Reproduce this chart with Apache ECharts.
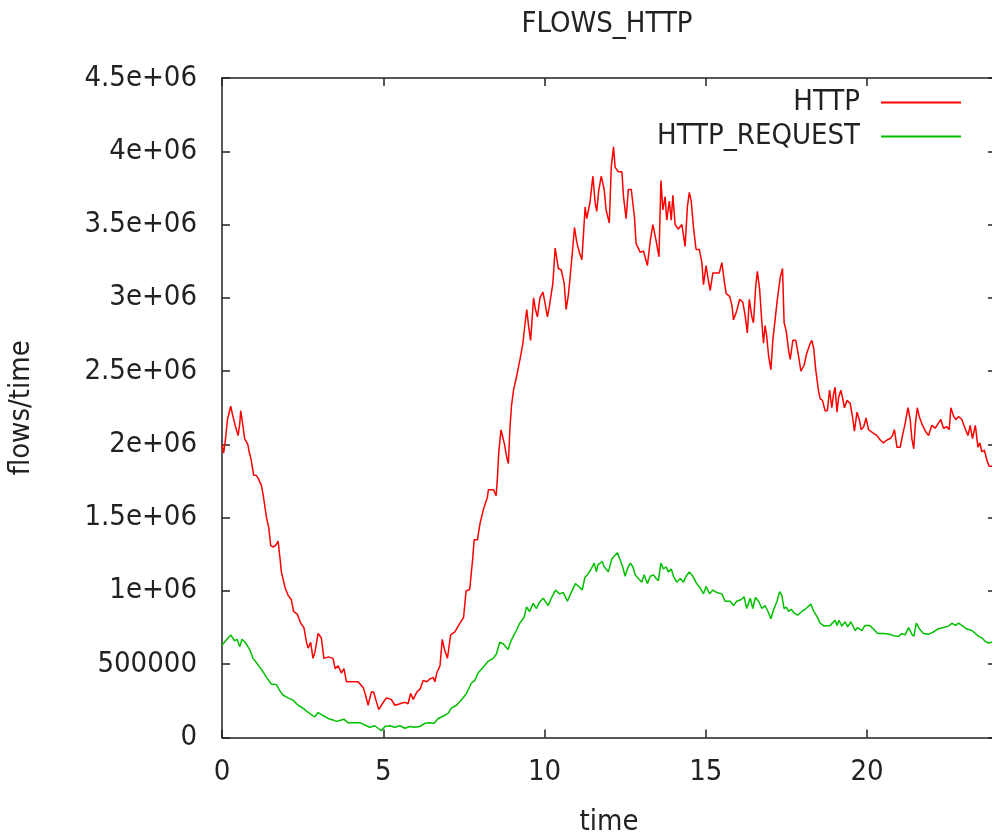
<!DOCTYPE html>
<html>
<head>
<meta charset="utf-8">
<script src="https://cdn.jsdelivr.net/npm/echarts@6/dist/echarts.min.js"></script>
<style>
html,body{margin:0;padding:0;background:#ffffff;}
#chart{width:992px;height:835px;}
</style>
</head>
<body>
<div id="chart"></div>
<script>
// ---- data (values in millions of flows) ----
const UNIT = 1e6;
const seriesNames = ['HTTP', 'HTTP_REQUEST'];
const xTickValues = [0, 5, 10, 15, 20];
const yTickLabels = ['0', '500000', '1e+06', '1.5e+06', '2e+06', '2.5e+06', '3e+06', '3.5e+06', '4e+06', '4.5e+06'];

const httpPoints = [
[0,2.00],[0.05,1.94],[0.10,2.02],[0.17,2.17],[0.27,2.26],[0.33,2.20],[0.42,2.12],[0.50,2.06],[0.55,2.14],[0.58,2.23],
[0.64,2.14],[0.70,2.04],[0.76,2.03],[0.80,2.00],[0.84,1.95],[0.90,1.90],[0.98,1.79],[1.05,1.79],[1.12,1.77],[1.22,1.72],
[1.28,1.65],[1.38,1.50],[1.45,1.43],[1.51,1.31],[1.58,1.30],[1.66,1.31],[1.74,1.34],[1.80,1.22],[1.84,1.13],[1.96,1.02],
[2.05,0.97],[2.15,0.94],[2.22,0.86],[2.34,0.84],[2.44,0.78],[2.54,0.75],[2.62,0.65],[2.67,0.61],[2.75,0.65],[2.82,0.54],
[2.88,0.58],[2.98,0.71],[3.08,0.68],[3.16,0.54],[3.30,0.55],[3.44,0.54],[3.51,0.47],[3.60,0.49],[3.70,0.44],[3.78,0.47],
[3.86,0.38],[4.02,0.38],[4.22,0.38],[4.38,0.34],[4.45,0.29],[4.53,0.22],[4.63,0.31],[4.70,0.31],[4.78,0.25],[4.86,0.19],
[4.97,0.23],[5.10,0.27],[5.25,0.26],[5.36,0.22],[5.52,0.23],[5.67,0.24],[5.77,0.23],[5.85,0.30],[5.93,0.26],[6.04,0.31],
[6.14,0.33],[6.24,0.39],[6.35,0.38],[6.45,0.40],[6.55,0.41],[6.60,0.38],[6.66,0.44],[6.76,0.49],[6.83,0.67],[6.90,0.60],
[6.99,0.54],[7.09,0.70],[7.22,0.72],[7.38,0.78],[7.49,0.82],[7.57,1.00],[7.68,1.01],[7.77,1.21],[7.82,1.35],[7.92,1.35],
[8.00,1.46],[8.11,1.56],[8.23,1.64],[8.26,1.69],[8.42,1.69],[8.50,1.65],[8.54,1.77],[8.58,1.94],[8.65,2.10],[8.76,2.00],
[8.83,1.91],[8.88,1.87],[8.93,2.12],[8.98,2.27],[9.04,2.37],[9.14,2.47],[9.24,2.58],[9.33,2.69],[9.40,2.83],[9.45,2.92],
[9.51,2.80],[9.57,2.71],[9.66,3.00],[9.72,2.92],[9.78,2.87],[9.86,3.00],[9.95,3.04],[10.02,2.96],[10.09,2.87],[10.15,2.94],
[10.26,3.10],[10.33,3.34],[10.43,3.20],[10.52,3.19],[10.61,3.10],[10.67,2.92],[10.74,3.02],[10.79,3.13],[10.86,3.30],[10.93,3.48],
[11.00,3.38],[11.08,3.31],[11.16,3.26],[11.21,3.44],[11.26,3.62],[11.31,3.54],[11.41,3.65],[11.50,3.83],[11.57,3.65],[11.62,3.59],
[11.68,3.73],[11.76,3.83],[11.85,3.74],[11.91,3.60],[12.01,3.51],[12.07,3.89],[12.14,4.03],[12.19,3.89],[12.29,3.86],[12.40,3.86],
[12.45,3.69],[12.53,3.54],[12.60,3.74],[12.69,3.74],[12.79,3.55],[12.84,3.37],[12.97,3.31],[13.07,3.32],[13.19,3.22],[13.28,3.39],
[13.36,3.50],[13.46,3.39],[13.55,3.28],[13.61,3.80],[13.67,3.60],[13.74,3.69],[13.79,3.53],[13.87,3.66],[13.93,3.53],[13.98,3.70],
[14.05,3.50],[14.15,3.47],[14.26,3.50],[14.36,3.35],[14.43,3.62],[14.49,3.72],[14.55,3.66],[14.62,3.48],[14.70,3.33],[14.80,3.33],
[14.88,3.24],[14.93,3.09],[15.01,3.22],[15.08,3.12],[15.14,3.05],[15.22,3.17],[15.32,3.17],[15.42,3.17],[15.50,3.24],[15.56,3.14],
[15.63,3.03],[15.74,3.01],[15.81,2.95],[15.86,2.85],[15.96,2.91],[16.05,2.99],[16.15,2.97],[16.22,2.88],[16.29,2.76],[16.35,2.99],
[16.43,2.87],[16.48,2.83],[16.55,3.08],[16.60,3.18],[16.67,3.06],[16.74,2.83],[16.79,2.69],[16.84,2.81],[16.89,2.74],[16.95,2.60],
[17.02,2.51],[17.08,2.71],[17.15,2.85],[17.22,2.99],[17.31,3.14],[17.38,3.20],[17.43,2.83],[17.49,2.78],[17.57,2.64],[17.62,2.58],
[17.70,2.71],[17.79,2.71],[17.88,2.60],[17.95,2.50],[18.05,2.54],[18.13,2.62],[18.24,2.69],[18.29,2.71],[18.35,2.65],[18.41,2.51],
[18.50,2.36],[18.55,2.31],[18.62,2.30],[18.70,2.23],[18.77,2.23],[18.84,2.37],[18.91,2.25],[18.96,2.34],[19.01,2.39],[19.07,2.22],
[19.12,2.32],[19.19,2.37],[19.24,2.32],[19.30,2.25],[19.38,2.30],[19.48,2.28],[19.55,2.19],[19.61,2.09],[19.69,2.22],[19.76,2.17],
[19.82,2.10],[19.90,2.12],[19.97,2.18],[20.05,2.10],[20.17,2.08],[20.31,2.06],[20.41,2.03],[20.51,2.01],[20.62,2.03],[20.72,2.04],
[20.79,2.06],[20.85,2.10],[20.93,1.98],[21.03,1.98],[21.10,2.06],[21.18,2.14],[21.27,2.25],[21.34,2.17],[21.39,2.04],[21.45,1.97],
[21.50,2.14],[21.56,2.25],[21.62,2.19],[21.70,2.14],[21.81,2.09],[21.91,2.06],[22.01,2.13],[22.11,2.11],[22.20,2.14],[22.29,2.17],
[22.37,2.11],[22.48,2.12],[22.55,2.10],[22.60,2.25],[22.69,2.19],[22.76,2.17],[22.84,2.19],[22.94,2.17],[23.04,2.11],[23.13,2.06],
[23.20,2.13],[23.27,2.04],[23.36,2.13],[23.44,1.98],[23.50,2.01],[23.56,1.95],[23.64,1.96],[23.72,1.89],[23.79,1.85],[23.88,1.85],
[24.00,1.85]
];

const requestPoints = [
[0,0.63],[0.03,0.64],[0.15,0.67],[0.27,0.70],[0.39,0.66],[0.47,0.67],[0.55,0.62],[0.62,0.67],[0.72,0.65],[0.86,0.60],
[0.96,0.54],[1.07,0.51],[1.17,0.48],[1.27,0.45],[1.38,0.41],[1.53,0.365],[1.69,0.36],[1.79,0.32],[1.89,0.29],[2.05,0.27],
[2.20,0.255],[2.36,0.22],[2.51,0.20],[2.62,0.18],[2.72,0.165],[2.87,0.14],[2.98,0.17],[3.13,0.15],[3.29,0.13],[3.44,0.12],
[3.55,0.11],[3.70,0.12],[3.78,0.125],[3.91,0.10],[4.12,0.10],[4.30,0.10],[4.43,0.085],[4.58,0.07],[4.74,0.08],[4.84,0.063],
[4.94,0.046],[5.05,0.075],[5.20,0.08],[5.36,0.07],[5.52,0.08],[5.67,0.063],[5.82,0.075],[5.97,0.07],[6.13,0.075],[6.29,0.097],
[6.44,0.10],[6.58,0.097],[6.70,0.13],[6.85,0.145],[7.01,0.165],[7.11,0.20],[7.27,0.22],[7.42,0.256],[7.58,0.30],[7.73,0.37],
[7.84,0.39],[7.94,0.44],[8.10,0.48],[8.25,0.52],[8.41,0.54],[8.51,0.57],[8.61,0.65],[8.72,0.64],[8.87,0.60],[8.97,0.665],
[9.13,0.73],[9.23,0.78],[9.37,0.82],[9.44,0.89],[9.54,0.86],[9.65,0.915],[9.75,0.88],[9.85,0.925],[9.96,0.95],[10.11,0.90],
[10.21,0.95],[10.34,1.006],[10.47,0.98],[10.58,0.99],[10.71,0.93],[10.83,0.99],[10.96,1.05],[11.06,1.03],[11.17,1.006],[11.25,1.09],
[11.33,1.11],[11.46,1.155],[11.54,1.19],[11.61,1.13],[11.66,1.18],[11.79,1.20],[11.85,1.165],[11.98,1.13],[12.09,1.22],[12.17,1.24],
[12.26,1.26],[12.35,1.21],[12.43,1.16],[12.50,1.10],[12.57,1.15],[12.66,1.19],[12.74,1.165],[12.81,1.11],[12.91,1.085],[13.02,1.06],
[13.09,1.11],[13.19,1.05],[13.28,1.10],[13.38,1.11],[13.46,1.085],[13.53,1.07],[13.61,1.19],[13.69,1.15],[13.77,1.165],[13.84,1.13],
[13.93,1.15],[14.00,1.10],[14.10,1.06],[14.21,1.085],[14.31,1.06],[14.39,1.10],[14.49,1.13],[14.60,1.10],[14.72,1.05],[14.83,1.02],
[14.93,0.98],[15.01,1.03],[15.12,0.98],[15.22,1.006],[15.34,0.99],[15.50,0.98],[15.60,0.93],[15.76,0.93],[15.86,0.90],[15.96,0.93],
[16.09,0.94],[16.19,0.96],[16.27,0.88],[16.38,0.95],[16.46,0.88],[16.54,0.955],[16.64,0.93],[16.74,0.88],[16.84,0.90],[16.93,0.86],
[17.02,0.81],[17.10,0.87],[17.21,0.93],[17.29,0.995],[17.36,0.97],[17.43,0.88],[17.50,0.89],[17.57,0.86],[17.65,0.875],[17.74,0.85],
[17.85,0.835],[17.98,0.86],[18.11,0.88],[18.26,0.91],[18.34,0.865],[18.45,0.825],[18.55,0.78],[18.67,0.76],[18.86,0.765],[19.01,0.80],
[19.07,0.765],[19.13,0.80],[19.22,0.76],[19.32,0.79],[19.40,0.755],[19.50,0.79],[19.63,0.73],[19.71,0.75],[19.84,0.73],[19.94,0.765],
[20.08,0.765],[20.20,0.74],[20.33,0.71],[20.51,0.71],[20.70,0.705],[20.82,0.695],[20.98,0.69],[21.08,0.71],[21.18,0.70],[21.29,0.75],
[21.39,0.705],[21.45,0.69],[21.53,0.78],[21.63,0.74],[21.75,0.71],[21.91,0.705],[22.06,0.72],[22.19,0.74],[22.37,0.75],[22.53,0.76],
[22.63,0.78],[22.74,0.765],[22.84,0.78],[22.97,0.76],[23.10,0.74],[23.25,0.73],[23.36,0.71],[23.46,0.69],[23.56,0.68],[23.67,0.655],
[23.77,0.645],[23.88,0.65],[24.00,0.65]
];

// ---- chart ----
const FONT = "'DejaVu Sans Condensed', 'DejaVu Sans', sans-serif";
const TEXT_COLOR = '#222222';
const FS = 29;
const toSeries = pts => pts.map(p => [p[0], p[1] * UNIT]);

const axisLine = { show: true, onZero: false, lineStyle: { color: '#222222', width: 1.5 } };
const axisTick = { show: true, inside: true, length: 8, lineStyle: { color: '#222222', width: 1.5 } };

const chart = echarts.init(document.getElementById('chart'), null, { renderer: 'canvas' });
chart.setOption({
  animation: false,
  backgroundColor: '#ffffff',
  title: {
    text: 'FLOWS_HTTP',
    left: 602, top: 5, textAlign: 'center',
    textStyle: { fontFamily: FONT, fontSize: FS, fontWeight: 'normal', color: TEXT_COLOR }
  },
  legend: {
    orient: 'vertical',
    right: 26, top: 83,
    align: 'right',
    itemWidth: 80, itemHeight: 2, itemGap: 5,
    selectedMode: false,
    data: [
      { name: seriesNames[0], icon: 'rect' },
      { name: seriesNames[1], icon: 'rect' }
    ],
    textStyle: { fontFamily: FONT, fontSize: FS, color: TEXT_COLOR, padding: [0, 16, 0, 0] }
  },
  grid: { left: 222, top: 78, width: 774, height: 659.5, containLabel: false, outerBoundsMode: 'none' },
  xAxis: [
    {
      type: 'value', min: 0, max: 24, interval: 5, position: 'bottom',
      name: 'time', nameLocation: 'middle', nameGap: 70,
      nameTextStyle: { fontFamily: FONT, fontSize: FS, color: TEXT_COLOR },
      axisLine: axisLine, axisTick: axisTick,
      axisLabel: {
        margin: 20, fontFamily: FONT, fontSize: FS, color: TEXT_COLOR,
        showMaxLabel: false,
        formatter: v => xTickValues.indexOf(v) >= 0 ? String(v) : ''
      },
      splitLine: { show: false }
    },
    {
      type: 'value', min: 0, max: 24, interval: 5, position: 'top',
      axisLine: axisLine, axisTick: axisTick,
      axisLabel: { show: false }, splitLine: { show: false }
    }
  ],
  yAxis: [
    {
      type: 'value', min: 0, max: 4.5e6, interval: 5e5, position: 'left',
      name: 'flows/time', nameLocation: 'middle', nameGap: 186, nameRotate: 90,
      nameTextStyle: { fontFamily: FONT, fontSize: FS, color: TEXT_COLOR },
      axisLine: axisLine, axisTick: axisTick,
      axisLabel: {
        margin: 25, fontFamily: FONT, fontSize: FS, color: TEXT_COLOR,
        formatter: v => yTickLabels[Math.round(v / 5e5)]
      },
      splitLine: { show: false }
    },
    {
      type: 'value', min: 0, max: 4.5e6, interval: 5e5, position: 'right',
      axisLine: axisLine, axisTick: axisTick,
      axisLabel: { show: false }, splitLine: { show: false }
    }
  ],
  series: [
    {
      name: seriesNames[0], type: 'line', xAxisIndex: 0, yAxisIndex: 0,
      data: toSeries(httpPoints), showSymbol: false, symbol: 'none',
      lineStyle: { color: '#ff0000', width: 1.5 }, itemStyle: { color: '#ff0000' }
    },
    {
      name: seriesNames[1], type: 'line', xAxisIndex: 0, yAxisIndex: 0,
      data: toSeries(requestPoints), showSymbol: false, symbol: 'none',
      lineStyle: { color: '#00c000', width: 1.5 }, itemStyle: { color: '#00c000' }
    }
  ]
});
</script>
</body>
</html>
